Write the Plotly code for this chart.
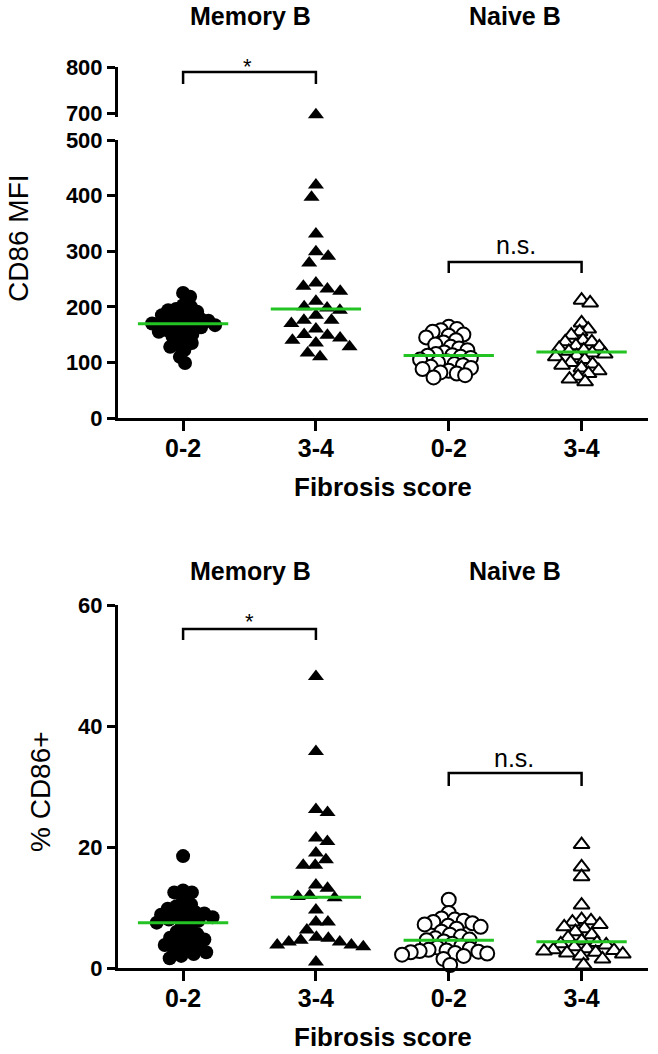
import numpy as np
import plotly.graph_objects as go

W, H = 658, 1054
FONT = "Liberation Sans, Arial, sans-serif"
GREEN = "#22c322"

# ---- data ----
groups = ["0-2", "3-4", "0-2", "3-4"]

mem02_mfi = [225, 218, 203, 200, 196, 194, 191, 188, 185, 182, 182, 178, 175, 173, 172, 171, 170,
             169, 167, 165, 163, 160, 158, 155, 152, 150, 146, 140, 135, 131, 128, 122, 110, 99]
mem34_mfi = [696, 419, 397, 331, 299, 291, 279, 243, 237, 232, 228, 210, 200, 198, 194, 185, 176,
             176, 170, 160, 150, 149, 144, 140, 135, 128, 117, 110]
nai02_mfi = [164, 160, 158, 155, 150, 148, 145, 140, 136, 132, 128, 125, 122, 118, 115, 113, 112,
             110, 108, 105, 102, 100, 97, 95, 92, 90, 88, 85, 82, 80, 77, 73]
nai34_mfi = [212, 207, 171, 160, 155, 149, 140, 137, 137, 130, 128, 125, 122, 120, 117, 115, 112,
             110, 105, 100, 97, 95, 90, 85, 80, 75, 70, 65]

mem02_pct = [18.5, 12.8, 12.5, 12.5, 11.2, 10.5, 10.2, 9.8, 9.5, 9.2, 9.0, 8.8, 8.6, 8.4, 8.2, 8.0,
             7.8, 7.5, 7.2, 6.5, 6.0, 5.6, 5.3, 5.0, 4.7, 4.4, 4.1, 3.8, 3.5, 3.2, 2.9, 2.6, 2.3, 2.0, 1.6]
mem34_pct = [48.2, 35.8, 26.2, 25.7, 21.5, 20.9, 19.0, 17.9, 17.0, 17.0, 13.7, 13.2, 12.0, 11.8,
             11.6, 9.6, 7.6, 7.6, 6.3, 5.1, 4.9, 4.6, 4.3, 4.3, 3.8, 3.8, 3.5, 1.0]
nai02_pct = [11.3, 9.1, 8.2, 8.0, 7.8, 7.6, 7.4, 7.2, 7.0, 6.8, 6.5, 6.0, 5.5, 5.2, 4.9, 4.7, 4.6,
             4.4, 4.0, 3.6, 3.4, 3.2, 3.0, 2.9, 2.8, 2.7, 2.6, 2.5, 2.4, 2.2, 2.0, 1.5, 0.5]
nai34_pct = [20.4, 16.7, 15.1, 10.4, 8.0, 7.8, 7.6, 7.2, 6.8, 6.5, 6.0, 5.5, 5.0, 4.5, 4.2, 4.0,
             3.8, 3.5, 3.2, 3.0, 2.9, 2.8, 2.6, 2.5, 2.3, 2.0, 1.5, 0.5]

# ---- layout geometry (pixels -> paper) ----
def px(x):
    return x / W


def py(y):
    return 1 - y / H


X_DOM = [px(118), px(648)]
X_RANGE = [-0.49, 3.5]
X_SCALE = (648 - 118) / (X_RANGE[1] - X_RANGE[0])   # px per category
MFI_SCALE = (418 - 140) / 500.0                      # px per MFI unit
HI_SCALE = (113 - 67) / 100.0                        # px per MFI unit, broken segment
PCT_SCALE = (968 - 605) / 60.0                       # px per % unit
HI_LOW = 692                                         # bottom of broken segment


def swarm(values, y_scale, min_dist=9.0):
    """simple beeswarm: nearest-to-centre free slot, in pixel space"""
    placed, offs = [], []
    for v in values:
        y = v * y_scale
        iv = []
        for (qx, qy) in placed:
            dy = abs(qy - y)
            if dy < min_dist:
                dx = np.sqrt(min_dist ** 2 - dy ** 2)
                iv.append((qx - dx, qx + dx))
        cands = [0.0] + [a for a, b in iv] + [b for a, b in iv]
        cands.sort(key=lambda c: (round(abs(c), 6), -c if len(placed) % 2 else c))
        for c in cands:
            if not any(a + 1e-6 < c < b - 1e-6 for a, b in iv):
                break
        placed.append((c, y))
        offs.append(c / X_SCALE)
    return offs


fig = go.Figure()


def add_group(vals, idx, y_scale, sym, filled, ref, spread, split=None):
    offs = swarm(vals, y_scale, spread)
    xs = [idx + o for o in offs]
    marker = dict(symbol=sym, size=14,
                  color="black" if filled else "white",
                  line=dict(color="black", width=0 if filled else 2))
    lo = [(x, v) for x, v in zip(xs, vals) if split is None or v <= split]
    hi = [(x, v) for x, v in zip(xs, vals) if split is not None and v > split]
    fig.add_trace(go.Scatter(x=[p[0] for p in lo], y=[p[1] for p in lo], mode="markers",
                             marker=marker, xaxis=ref[0], yaxis=ref[1],
                             cliponaxis=False, showlegend=False))
    if hi:
        fig.add_trace(go.Scatter(x=[p[0] for p in hi], y=[p[1] for p in hi], mode="markers",
                                 marker=marker, xaxis=ref[0], yaxis="y3",
                                 cliponaxis=False, showlegend=False))
    med = float(np.median(vals))
    fig.add_trace(go.Scatter(x=[idx - 0.34, idx + 0.34], y=[med, med], mode="lines",
                             line=dict(color=GREEN, width=3), xaxis=ref[0], yaxis=ref[1],
                             cliponaxis=False, showlegend=False, hoverinfo="skip"))


top = ("x", "y2")
bot = ("x2", "y")
add_group(mem02_mfi, 0, MFI_SCALE, "circle", True, top, 8)
add_group(mem34_mfi, 1, MFI_SCALE, "triangle-up", True, top, 13, split=600)
add_group(nai02_mfi, 2, MFI_SCALE, "circle", False, top, 8.5)
add_group(nai34_mfi, 3, MFI_SCALE, "triangle-up", False, top, 9)
add_group(mem02_pct, 0, PCT_SCALE, "circle", True, bot, 9)
add_group(mem34_pct, 1, PCT_SCALE, "triangle-up", True, bot, 12)
add_group(nai02_pct, 2, PCT_SCALE, "circle", False, bot, 9)
add_group(nai34_pct, 3, PCT_SCALE, "triangle-up", False, bot, 9.5)

axis_common = dict(showline=True, linecolor="black", linewidth=3, ticks="outside",
                   tickcolor="black", tickwidth=3, showgrid=False, zeroline=False,
                   automargin=False, fixedrange=True,
                   tickfont=dict(family=FONT, size=22, color="black", weight="bold"))
x_common = dict(axis_common, domain=X_DOM, range=X_RANGE, tickvals=[0, 1, 2, 3],
                ticktext=groups, ticklen=10, ticklabelstandoff=-4,
                tickfont=dict(family=FONT, size=25, color="black", weight="bold"))

fig.update_layout(
    width=W, height=H, autosize=False,
    margin=dict(l=0, r=0, t=0, b=0, pad=0, autoexpand=False),
    plot_bgcolor="white", paper_bgcolor="white",
    xaxis=dict(x_common, anchor="y2"),
    xaxis2=dict(x_common, anchor="y"),
    yaxis2=dict(axis_common, domain=[py(418), py(140)], range=[0, 500], anchor="x",
                tickvals=[0, 100, 200, 300, 400, 500], ticklen=8),
    yaxis3=dict(axis_common, domain=[py(113 + (700 - HI_LOW) * HI_SCALE), py(67)],
                range=[HI_LOW, 800], anchor="x", tickvals=[700, 800], ticklen=8),
    yaxis=dict(axis_common, domain=[py(968), py(605)], range=[0, 60], anchor="x2",
               tickvals=[0, 20, 40, 60], ticklen=8),
)


def label(text, x, y, size, bold=True, angle=0):
    fig.add_annotation(text=text, x=px(x), y=py(y), xref="paper", yref="paper",
                       showarrow=False, textangle=angle, xanchor="center", yanchor="middle",
                       font=dict(family=FONT, size=size, color="black",
                                 weight="bold" if bold else "normal"))


label("Memory B", 250, 16, 25)
label("Naive B", 515, 16, 25)
label("Memory B", 250, 571, 25)
label("Naive B", 515, 571, 25)
label("Fibrosis score", 383, 487, 26)
label("Fibrosis score", 383, 1037, 26)
label("CD86 MFI", 18, 238, 28, bold=False, angle=-90)
label("% CD86+", 40, 792, 28, bold=False, angle=-90)


def bracket(x0, x1, ytop, yleg, xref, yref):
    fig.add_shape(type="path", xref=xref, yref=yref,
                  path=f"M {x0},{yleg} L {x0},{ytop} L {x1},{ytop} L {x1},{yleg}",
                  line=dict(color="black", width=2.5))


def mfi_lo(ypx):
    return (418 - ypx) / MFI_SCALE


def mfi_hi(ypx):
    return 700 + (113 - ypx) / HI_SCALE


def pct(ypx):
    return (968 - ypx) / PCT_SCALE


bracket(0, 1, mfi_hi(72), mfi_hi(84), "x", "y3")
bracket(2, 3, mfi_lo(262), mfi_lo(273), "x", "y2")
bracket(0, 1, pct(629), pct(640), "x2", "y")
bracket(2, 3, pct(773), pct(786), "x2", "y")

label("*", 247, 66, 22, bold=False)
label("n.s.", 516, 245, 25, bold=False)
label("*", 249, 621, 22, bold=False)
label("n.s.", 514, 758, 25, bold=False)

# the page body has a default 8px margin; drop it so the figure sits at 0,0
fig.write_html("out.html", config={"displayModeBar": False},
               post_script="document.body.style.margin='0px';")
